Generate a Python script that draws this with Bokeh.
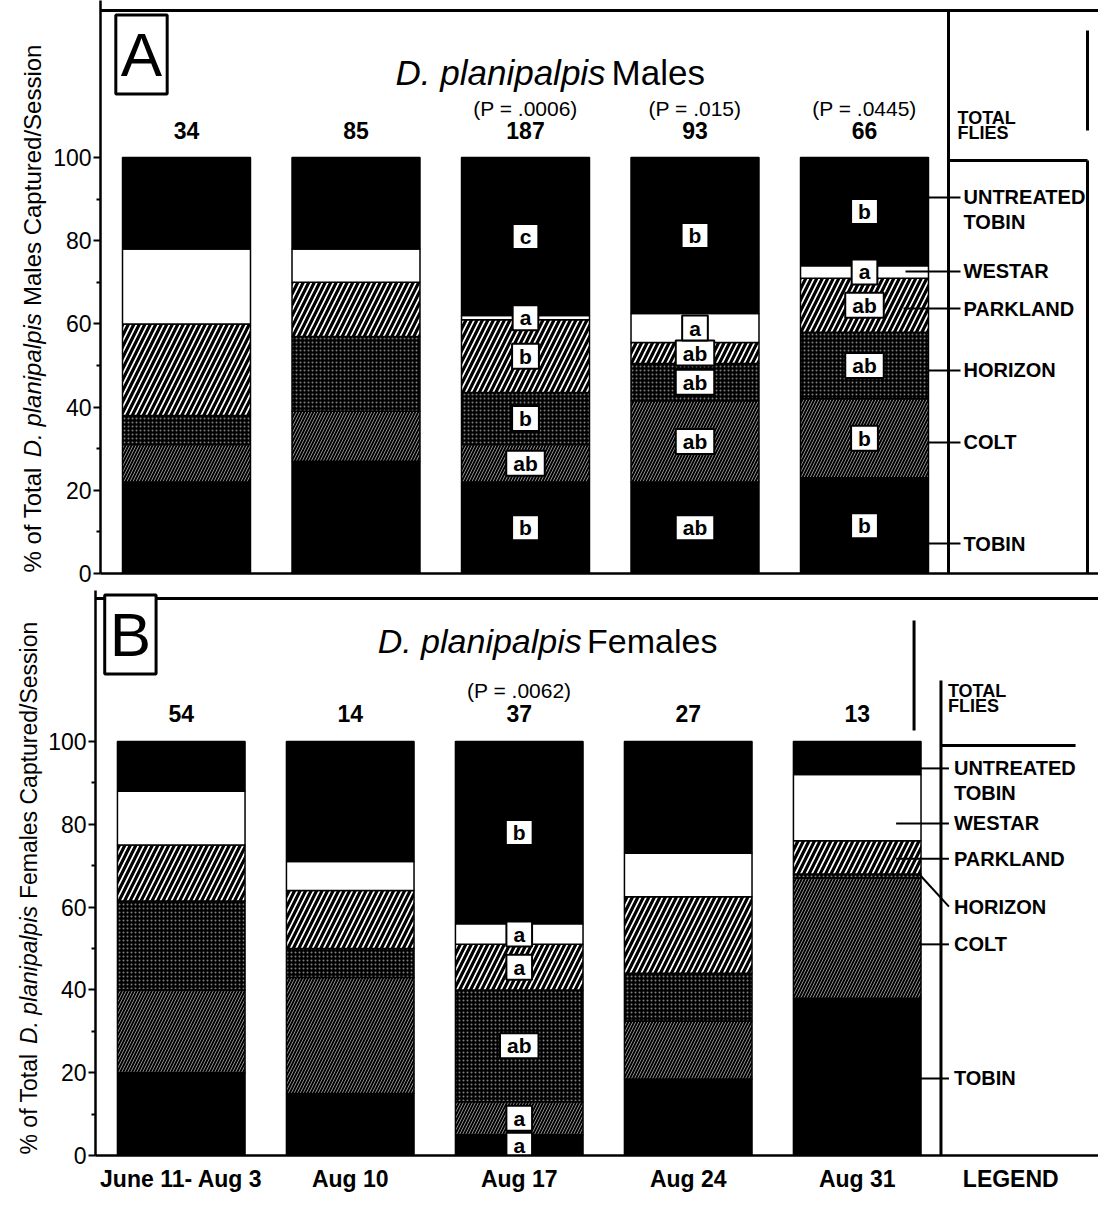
import numpy as np
from bokeh.plotting import figure
from bokeh.models import ColumnDataSource, FixedTicker, Label, Range1d
from bokeh.layouts import column, row
from bokeh.embed import file_html
from bokeh.resources import INLINE
from bokeh.core.properties import value

# ---------------- data ----------------
sessions = ["June 11- Aug 3", "Aug 10", "Aug 17", "Aug 24", "Aug 31"]
varieties = ["TOBIN", "COLT", "HORIZON", "PARKLAND", "WESTAR", "UNTREATED TOBIN"]

# Panel A: males, % of total per session
m_tobin = [22, 27, 22, 22, 23]
m_colt = [9, 12, 9, 19.5, 19]
m_horizon = [7, 18, 12.5, 9, 16]
m_parkland = [22, 13, 17.5, 5, 13]
m_westar = [18, 8, 1, 7, 3]
m_untreated = [22, 22, 38, 37.5, 26]
m_totals = [34, 85, 187, 93, 66]
m_pvals = ["", "", "(P = .0006)", "(P = .015)", "(P = .0445)"]
m_letters = [  # per session, per variety (TOBIN..UNTREATED)
    ["", "", "", "", "", ""],
    ["", "", "", "", "", ""],
    ["b", "ab", "b", "b", "a", "c"],
    ["ab", "ab", "ab", "ab", "a", "b"],
    ["b", "b", "ab", "ab", "a", "b"],
]

# Panel B: females
f_tobin = [20, 15, 5, 18.5, 38]
f_colt = [20, 28, 8, 14, 29]
f_horizon = [21.5, 7, 27, 11.5, 1]
f_parkland = [13.5, 14, 11, 18.5, 8]
f_westar = [13, 7, 5, 10.5, 16]
f_untreated = [12, 29, 44, 27, 8]
f_totals = [54, 14, 37, 27, 13]
f_pvals = ["", "", "(P = .0062)", "", ""]
f_letters = [
    ["", "", "", "", "", ""],
    ["", "", "", "", "", ""],
    ["a", "a", "ab", "a", "a", "b"],
    ["", "", "", "", "", ""],
    ["", "", "", "", "", ""],
]

yticks = [0, 20, 40, 60, 80, 100]
yminor = [10, 30, 50, 70, 90]

# ---------------- styles ----------------
keys = ["tobin", "colt", "horizon", "parkland", "westar", "untreated"]
fill_colors = ["black", "black", "black", "white", "white", "black"]
hatch_patterns = [None, "/", ".", "/", None, None]
hatch_colors = ["black", "white", "white", "black", "black", "black"]
hatch_scales = [12, 6, 4, 11, 12, 12]
hatch_weights = [1, 1, 1.2, 3.2, 1, 1]
hatch_alphas = [1, 0.55, 0.5, 1, 1, 1]

FONT = "Liberation Sans"
W = {" ": 278, "%": 889, "o": 556, "f": 278, "T": 611, "t": 278, "a": 556, "l": 222,
     "D": 722, ".": 278, "p": 556, "n": 556, "i": 222, "s": 500, "M": 833, "e": 556,
     "C": 722, "u": 556, "r": 333, "d": 556, "/": 278, "S": 667, "F": 611, "m": 833}


def tw(s, size):
    return sum(W.get(c, 556) for c in s) * size / 1000.0


PX_PER_X = 169.5


def make_ylabel(sex, cfg):
    h = cfg["h"]
    lw = cfg["lw"]
    fb = h - cfg["bb"]  # frame is aligned with the neighbouring plot's frame
    q = figure(width=lw, height=h, output_backend="svg", toolbar_location=None,
               x_range=Range1d(0, lw), y_range=Range1d(h - fb, h),
               x_axis_type=None, y_axis_type=None, title=None,
               min_border=0, min_border_left=0, min_border_right=0,
               min_border_top=0, min_border_bottom=cfg["bb"])
    q.outline_line_color = None
    q.grid.visible = False
    ysize = cfg["ysize"]
    gap = 0.3 * ysize
    parts = [("% of Total", "normal"), ("D. planipalpis", "italic"),
             (sex + " Captured/Session", "normal")]
    off = 0.0
    for txt, st in parts:
        q.text(x=[cfg["yl_x"]], y=[h - cfg["yl_y0"] + off], text=[txt],
               angle=np.pi / 2, text_align="left", text_baseline="middle",
               text_font=value(FONT), text_font_style=st,
               text_font_size=f"{ysize}px", text_color="black")
        off += tw(txt, ysize) + gap
    return q


def make_panel(vals, totals, pvals, letters, sex, cfg):
    fig_h = cfg["h"]
    lw = cfg["lw"]
    bl = cfg["bl"]
    bb = cfg["bb"]
    ppy = cfg["ppy"]
    px0 = cfg["px0"]
    fb = fig_h - bb  # frame bottom (local px)

    def X(px):
        return (px - px0) / PX_PER_X

    def Y(py):
        return (fb - py) / ppy

    p = figure(width=1098 - lw, height=fig_h, output_backend="svg",
               toolbar_location=None,
               x_range=Range1d(X(bl), X(1098)), y_range=Range1d(0, Y(0)),
               min_border_left=bl - lw, min_border_right=0, min_border_top=0,
               min_border_bottom=bb, background_fill_color="white",
               border_fill_color="white")
    p.outline_line_color = None
    p.grid.visible = False

    src = ColumnDataSource(dict(x=list(range(len(sessions))),
                                **{k: v for k, v in zip(keys, vals)}))
    p.vbar_stack(keys, x="x", width=0.755, source=src,
                 fill_color=fill_colors, hatch_pattern=hatch_patterns,
                 hatch_color=hatch_colors, hatch_scale=hatch_scales,
                 hatch_weight=hatch_weights, hatch_alpha=hatch_alphas,
                 line_color="black", line_width=1.5)

    # significance letters
    arr = np.array(vals, dtype=float)  # varieties x sessions
    tops = np.cumsum(arr, axis=0)
    mids = tops - arr / 2
    lx, ly, lt = [], [], []
    for si in range(len(sessions)):
        for vi in range(len(keys)):
            t = letters[si][vi]
            if t:
                lx.append(si)
                ly.append(mids[vi, si])
                lt.append(t)
    p.text(x=lx, y=ly, text=lt, text_align="center", text_baseline="middle",
           text_font=value(FONT), text_font_style="bold", text_font_size="21px",
           text_color="black",
           background_fill_color="white", border_line_color="black",
           border_line_width=2, padding=dict(left=7, right=7, top=1, bottom=1))

    # totals and P values
    p.text(x=list(range(len(sessions))), y=[Y(cfg["tot_y"])] * len(sessions),
           text=[str(t) for t in totals], text_align="center", text_baseline="middle",
           text_font=value(FONT), text_font_style="bold", text_font_size="23px",
           text_color="black")
    pv_x = [i for i, s in enumerate(pvals) if s]
    p.text(x=pv_x, y=[Y(cfg["p_y"])] * len(pv_x), text=[pvals[i] for i in pv_x],
           text_align="center", text_baseline="middle",
           text_font=value(FONT), text_font_size="21px", text_color="black")

    # title
    tsize = cfg["tsize"]
    it = "D. planipalpis"
    rest = sex
    x0 = cfg["title_x"]
    p.add_layout(Label(x=X(x0), y=Y(cfg["title_y"]), text=it, text_font=FONT,
                       text_font_style="italic", text_font_size=f"{tsize}px",
                       text_color="black",
                       text_baseline="middle", text_align="left"))
    p.add_layout(Label(x=X(x0 + tw(it, tsize) + 6), y=Y(cfg["title_y"]), text=rest,
                       text_font=FONT, text_font_size=f"{tsize}px",
                       text_color="black",
                       text_baseline="middle", text_align="left"))

    # panel tag
    p.add_layout(Label(x=X(cfg["tag_x"]), y=Y(cfg["tag_y"]), text=cfg["tag"],
                       text_font=FONT, text_font_size="62px", text_align="center",
                       text_color="black",
                       text_baseline="middle", border_line_color="black",
                       border_line_width=3, background_fill_color="white",
                       padding=5))

    # frame / legend lines
    segs = cfg["segs"]
    p.segment(x0=[X(s[0]) for s in segs], y0=[Y(s[1]) for s in segs],
              x1=[X(s[2]) for s in segs], y1=[Y(s[3]) for s in segs],
              line_color="black", line_width=3)

    # legend leaders and labels
    lg = cfg["leg"]
    p.segment(x0=[X(a) for a in lg["x0"]], y0=lg["y0"],
              x1=[X(lg["x1"])] * len(keys), y1=lg["y"], line_color="black",
              line_width=2)
    ltx, lty, ltt = [], [], []
    for vi, name in enumerate(varieties):
        words = name.split(" ", 1) if name.startswith("UNTREATED") else [name]
        for wi, wd in enumerate(words):
            ltx.append(X(lg["tx"]))
            lty.append(lg["y"][vi] - wi * 6)
            ltt.append(wd)
    p.text(x=ltx, y=lty, text=ltt, text_align="left", text_baseline="middle",
           text_font=value(FONT), text_font_style="bold", text_font_size="20px",
           text_color="black")
    p.text(x=[X(lg["tx"] - 6)] * 2, y=[Y(cfg["tf_y"]), Y(cfg["tf_y"] + 15)],
           text=["TOTAL", "FLIES"], text_align="left", text_baseline="middle",
           text_font=value(FONT), text_font_style="bold", text_font_size="18px",
           text_color="black")

    # axes
    p.yaxis.ticker = FixedTicker(ticks=yticks, minor_ticks=yminor)
    p.yaxis.axis_line_width = 2.5
    p.yaxis.major_tick_line_width = 2
    p.yaxis.major_tick_out = 7
    p.yaxis.major_tick_in = 0
    p.yaxis.minor_tick_out = 4
    p.yaxis.minor_tick_in = 0
    p.yaxis.minor_tick_line_width = 2
    p.yaxis.major_label_standoff = 2
    p.yaxis.major_label_text_font = FONT
    p.yaxis.major_label_text_font_size = "23px"
    p.yaxis.major_label_text_color = "black"
    p.xaxis.axis_line_width = 2.5
    p.xaxis.major_tick_in = 0
    p.xaxis.minor_tick_out = 0
    p.xaxis.minor_tick_in = 0
    if cfg["xlabels"]:
        ticks = list(range(len(sessions))) + [X(1010)]
        p.xaxis.ticker = FixedTicker(ticks=ticks)
        p.xaxis.major_label_overrides = {**{i: s for i, s in enumerate(sessions)},
                                         X(1010): "LEGEND"}
        p.xaxis.major_tick_out = 0
        p.xaxis.major_label_text_font = FONT
        p.xaxis.major_label_text_font_style = "bold"
        p.xaxis.major_label_text_font_size = "23px"
        p.xaxis.major_label_text_color = "black"
        p.xaxis.major_label_standoff = 10
    else:
        p.xaxis.ticker = FixedTicker(ticks=[])
        p.xaxis.major_tick_out = 0
    return p


cfgA = dict(h=590, lw=50, bl=100, bb=17, ppy=4.16, px0=186, xlabels=False,
            tot_y=130, p_y=108, title_x=395, title_y=72, tsize=35, tag="A",
            tag_x=141, tag_y=54, yl_x=32, yl_y0=572, ysize=24, tf_y=117,
            segs=[(100, 10, 1098, 10), (948, 10, 948, 573), (948, 160, 1087, 160),
                  (1087, 160, 1087, 573), (1087, 30, 1087, 130)],
            leg=dict(x0=[900, 928, 928, 903, 905, 928],
                     y0=[7.2, 31.5, 48.8, 63.7, 72.6, 90.4],
                     y=[7.2, 31.5, 48.8, 63.7, 72.6, 90.4], x1=960, tx=963))

cfgB = dict(h=618, lw=45, bl=92, bb=53, ppy=4.14, px0=178, xlabels=True,
            tot_y=123, p_y=100, title_x=375, title_y=50, tsize=34, tag="B",
            tag_x=127, tag_y=44, yl_x=28, yl_y0=564, ysize=23, tf_y=100,
            segs=[(92, 8, 1098, 8), (913, 30, 913, 140), (940, 90, 940, 565),
                  (940, 155, 1075, 155)],
            leg=dict(x0=[895, 918, 918, 895, 895, 920],
                     y0=[18.6, 51, 68, 71.7, 80.2, 93.5],
                     y=[18.6, 51, 60.1, 71.7, 80.2, 93.5], x1=948, tx=953))

pA = make_panel([m_tobin, m_colt, m_horizon, m_parkland, m_westar, m_untreated],
                m_totals, m_pvals, m_letters, "Males", cfgA)
pB = make_panel([f_tobin, f_colt, f_horizon, f_parkland, f_westar, f_untreated],
                f_totals, f_pvals, f_letters, "Females", cfgB)
lA = make_ylabel("Males", cfgA)
lB = make_ylabel("Females", cfgB)

layout = column(row(lA, pA, spacing=0), row(lB, pB, spacing=0), spacing=0)
open("out.html", "w").write(file_html(layout, INLINE))
